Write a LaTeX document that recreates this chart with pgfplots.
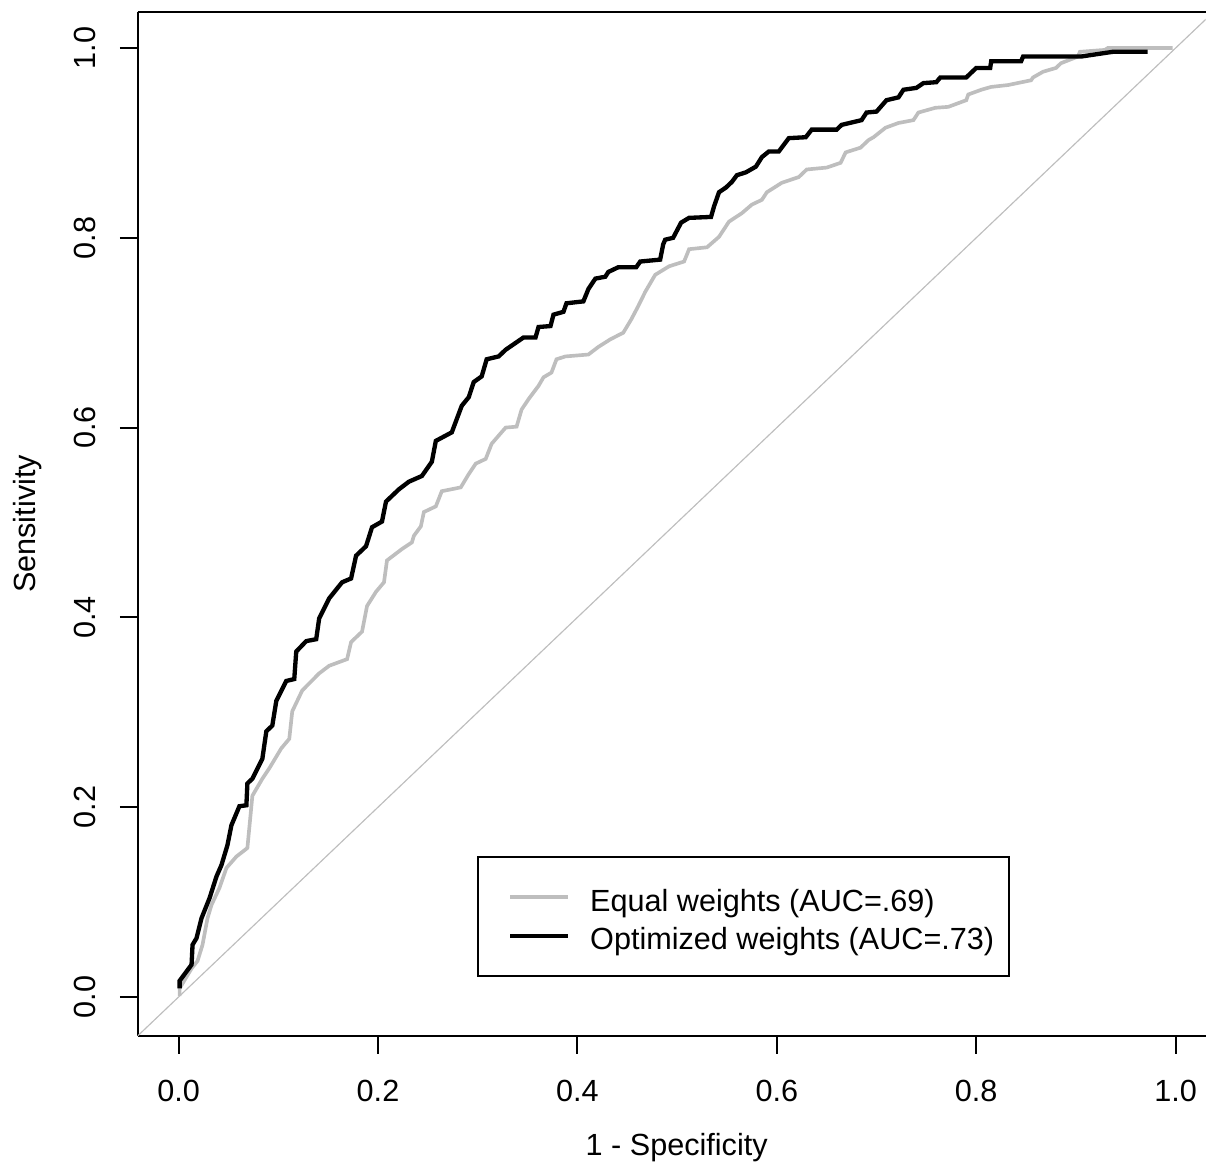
\documentclass[border=0pt]{standalone}
\usepackage{pgfplots}
\pgfplotsset{compat=1.18}
\usepackage{fontspec}
\setmainfont{Liberation Sans}
\definecolor{rgray}{HTML}{BEBEBE}
\newcommand{\ff}{\fontsize{9.2}{11}\selectfont}
\begin{document}
\begin{tikzpicture}[font=\ff]
\begin{axis}[
  scale only axis,
  width=321pt, height=307.8pt,
  xmin=-0.041, xmax=1.03, ymin=-0.041, ymax=1.038,
  enlargelimits=false,
  axis x line=box, axis y line=left,
  axis line style={-, line width=0.6pt},
  xtick pos=bottom, ytick pos=left,
  tick align=outside,
  major tick length=5.4pt,
  tick style={line width=0.6pt, black},
  xtick={0,0.2,0.4,0.6,0.8,1.0},
  ytick={0,0.2,0.4,0.6,0.8,1.0},
  /pgf/number format/fixed,
  /pgf/number format/fixed zerofill,
  /pgf/number format/precision=1,
  /pgf/number format/assume math mode=true,
  tick label style={font=\ff},
  xticklabel style={yshift=-4.4pt},
  yticklabel style={rotate=90, anchor=south, yshift=3.6pt},
  xlabel={1 - Specificity},
  ylabel={Sensitivity},
  xlabel style={at={(axis description cs:0.5047,0)}, anchor=center, yshift=-33.6pt, font=\ff},
  ylabel style={at={(axis description cs:0,0.5)}, anchor=center, yshift=33pt, font=\ff},
  legend style={at={(axis description cs:0.318,0.1754)}, anchor=north west,
    draw=black, line width=0.5pt, font=\ff,
    inner xsep=4.5pt, inner ysep=6.4pt, row sep=0.5pt,
    nodes={inner sep=0pt, text height=9.8pt, text depth=1.4pt},
    column sep=6pt},
  legend cell align=left,
  legend image code/.code={\path (0pt,0pt); \draw[#1] (4.5pt,0pt) -- (21.9pt,0pt);},
]
\addplot[rgray, line width=0.35pt, forget plot] coordinates {(-0.1,-0.1) (1.1,1.1)};
\addplot[rgray, line width=1.1pt] coordinates {
(0.001,0.001) (0.001,0.009) (0.013,0.030) (0.019,0.038) (0.024,0.055) (0.029,0.083)
(0.033,0.097) (0.041,0.115) (0.048,0.136) (0.058,0.148) (0.069,0.157) (0.074,0.212)
(0.084,0.230) (0.091,0.241) (0.103,0.262) (0.111,0.272) (0.114,0.301) (0.124,0.323)
(0.141,0.341) (0.151,0.349) (0.169,0.356) (0.173,0.374) (0.184,0.385) (0.189,0.412)
(0.198,0.427) (0.206,0.437) (0.209,0.460) (0.224,0.472) (0.234,0.479) (0.236,0.486)
(0.243,0.496) (0.246,0.511) (0.258,0.517) (0.264,0.533) (0.283,0.537) (0.291,0.551)
(0.298,0.562) (0.308,0.567) (0.314,0.583) (0.328,0.600) (0.339,0.601) (0.344,0.619)
(0.351,0.630) (0.361,0.644) (0.366,0.653) (0.374,0.658) (0.379,0.672) (0.388,0.675)
(0.411,0.677) (0.421,0.685) (0.433,0.693) (0.446,0.700) (0.454,0.714) (0.461,0.728)
(0.468,0.743) (0.478,0.761) (0.492,0.770) (0.507,0.775) (0.512,0.788) (0.530,0.790)
(0.542,0.801) (0.552,0.817) (0.565,0.826) (0.575,0.835) (0.585,0.840) (0.590,0.848)
(0.605,0.858) (0.622,0.864) (0.630,0.872) (0.650,0.874) (0.664,0.879) (0.669,0.890)
(0.684,0.895) (0.692,0.903) (0.697,0.906) (0.709,0.916) (0.722,0.921) (0.737,0.924)
(0.742,0.932) (0.759,0.937) (0.772,0.938) (0.790,0.945) (0.792,0.951) (0.805,0.956)
(0.815,0.959) (0.832,0.961) (0.855,0.966) (0.857,0.969) (0.867,0.975) (0.880,0.979)
(0.885,0.984) (0.902,0.991) (0.904,0.996) (0.929,0.998) (0.932,1.000) (0.997,1.000)
};
\addlegendentry{Equal weights (AUC=.69)}
\addplot[black, line width=1.3pt] coordinates {
(0.001,0.009) (0.001,0.017) (0.013,0.034) (0.014,0.055) (0.018,0.062) (0.023,0.083)
(0.031,0.104) (0.038,0.127) (0.043,0.139) (0.049,0.160) (0.053,0.181) (0.061,0.201)
(0.068,0.202) (0.069,0.225) (0.074,0.230) (0.084,0.251) (0.088,0.280) (0.094,0.286)
(0.098,0.312) (0.108,0.333) (0.116,0.335) (0.118,0.364) (0.128,0.375) (0.138,0.377)
(0.141,0.399) (0.151,0.420) (0.164,0.437) (0.173,0.441) (0.178,0.465) (0.188,0.475)
(0.194,0.495) (0.204,0.501) (0.208,0.522) (0.221,0.535) (0.231,0.543) (0.244,0.549)
(0.254,0.564) (0.258,0.586) (0.274,0.595) (0.284,0.623) (0.291,0.632) (0.296,0.648)
(0.304,0.654) (0.309,0.672) (0.321,0.675) (0.328,0.682) (0.346,0.695) (0.358,0.695)
(0.361,0.706) (0.373,0.707) (0.376,0.719) (0.386,0.722) (0.389,0.731) (0.406,0.733)
(0.411,0.746) (0.418,0.757) (0.428,0.759) (0.431,0.764) (0.441,0.769) (0.459,0.769)
(0.463,0.775) (0.483,0.777) (0.486,0.793) (0.488,0.798) (0.496,0.800) (0.504,0.816)
(0.512,0.821) (0.534,0.822) (0.537,0.833) (0.542,0.848) (0.549,0.853) (0.555,0.859)
(0.560,0.866) (0.569,0.869) (0.579,0.875) (0.585,0.885) (0.592,0.891) (0.602,0.891)
(0.612,0.905) (0.629,0.906) (0.635,0.914) (0.660,0.914) (0.665,0.919) (0.685,0.924)
(0.690,0.932) (0.700,0.933) (0.710,0.945) (0.722,0.948) (0.727,0.956) (0.740,0.958)
(0.747,0.963) (0.760,0.964) (0.764,0.969) (0.790,0.969) (0.800,0.979) (0.814,0.979)
(0.815,0.986) (0.845,0.986) (0.847,0.991) (0.905,0.991) (0.937,0.996) (0.972,0.996)
};
\addlegendentry{Optimized weights (AUC=.73)}
\end{axis}
\path (current axis.south west) ++(-41.4pt,-37.5pt) coordinate (bbA);
\path (current axis.north east) ++(0pt,3.6pt) coordinate (bbB);
\path (bbA) rectangle (bbB);
\end{tikzpicture}
\end{document}
